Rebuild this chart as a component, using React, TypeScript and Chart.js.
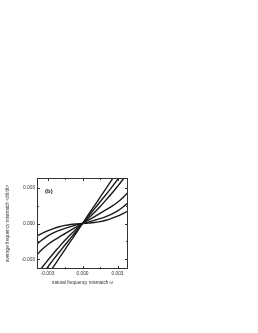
import React, { useEffect, useRef } from "react";
import { Chart, registerables } from "chart.js";

Chart.register(...registerables);

const omega = [-0.0045, -0.004, -0.0035, -0.003, -0.0025, -0.002, -0.0015, -0.001, -0.0005, -0.00025, 0, 0.00025, 0.0005, 0.001, 0.0015, 0.002, 0.0025, 0.003, 0.0035, 0.004, 0.0045];

const curveA = [-0.0014, -0.0011, -0.00085, -0.00062, -0.00043, -0.00027, -0.00016, -0.00008, -0.00003, -0.00001, 0, 0.00001, 0.00003, 0.00008, 0.00016, 0.00027, 0.00043, 0.00062, 0.00085, 0.0011, 0.0014];
const curveB = [-0.0022, -0.0018, -0.0014, -0.00105, -0.00079, -0.00058, -0.00041, -0.00026, -0.00012, -0.00006, 0, 0.00006, 0.00012, 0.00026, 0.00041, 0.00058, 0.00079, 0.00105, 0.0014, 0.0018, 0.0022];
const curveC = [-0.0033, -0.00272, -0.0022, -0.00177, -0.00143, -0.00113, -0.00085, -0.00056, -0.00028, -0.00014, 0, 0.00014, 0.00028, 0.00056, 0.00085, 0.00113, 0.00143, 0.00177, 0.0022, 0.00272, 0.0033];
const curveD = [-0.005, -0.00435, -0.00372, -0.0031, -0.0025, -0.00195, -0.0014, -0.0009, -0.00043, -0.00021, 0, 0.00021, 0.00043, 0.0009, 0.0014, 0.00195, 0.0025, 0.0031, 0.00372, 0.00435, 0.005];
const curveE = [-0.0056, -0.00496, -0.0043, -0.00366, -0.00302, -0.0024, -0.0018, -0.0012, -0.0006, -0.0003, 0, 0.0003, 0.0006, 0.0012, 0.0018, 0.0024, 0.00302, 0.00366, 0.0043, 0.00496, 0.0056];
const curveF = [-0.00653, -0.0058, -0.00508, -0.00435, -0.00363, -0.0029, -0.00218, -0.00145, -0.00073, -0.00036, 0, 0.00036, 0.00073, 0.00145, 0.00218, 0.0029, 0.00363, 0.00435, 0.00508, 0.0058, 0.00653];

const curves = [curveA, curveB, curveC, curveD, curveE, curveF];

const xMajorTicks = [-0.003, 0, 0.003];
const yMajorTicks = [-0.003, 0, 0.003];
const xMinorTicks = [-0.0015, 0.0015];
const yMinorTicks = [-0.0015, 0.0015];

const xTitle = "natural frequency mismatch ω";
const yTitle = "average frequency mismatch <dθ/dt>";
const panelLabel = "(b)";

const FONT = "'Liberation Sans', Arial, sans-serif";

const framePlugin = {
  id: "frameTicks",
  afterDraw(chart: any) {
    const { ctx, chartArea, scales } = chart;
    const { left, right, top, bottom } = chartArea;
    ctx.save();
    ctx.strokeStyle = "#333";
    ctx.lineWidth = 1;
    ctx.strokeRect(left + 0.5, top + 0.5, right - left - 1, bottom - top - 1);
    const drawX = (vals: number[], len: number) => {
      vals.forEach((v) => {
        const x = Math.round(scales.x.getPixelForValue(v)) + 0.5;
        ctx.beginPath();
        ctx.moveTo(x, bottom);
        ctx.lineTo(x, bottom - len);
        ctx.moveTo(x, top);
        ctx.lineTo(x, top + len);
        ctx.stroke();
      });
    };
    const drawY = (vals: number[], len: number) => {
      vals.forEach((v) => {
        const y = Math.round(scales.y.getPixelForValue(v)) + 0.5;
        ctx.beginPath();
        ctx.moveTo(left, y);
        ctx.lineTo(left + len, y);
        ctx.moveTo(right, y);
        ctx.lineTo(right - len, y);
        ctx.stroke();
      });
    };
    drawX(xMajorTicks, 3);
    drawX(xMinorTicks, 2);
    drawY(yMajorTicks, 3);
    drawY(yMinorTicks, 2);
    ctx.fillStyle = "#222";
    ctx.font = `bold 6px ${FONT}`;
    ctx.textBaseline = "middle";
    ctx.fillText(panelLabel, left + 8, top + 13);
    ctx.restore();
  },
};

export default function App() {
  const ref = useRef<HTMLCanvasElement | null>(null);
  useEffect(() => {
    if (!ref.current) return;
    const chart = new Chart(ref.current, {
      type: "line",
      data: {
        labels: omega,
        datasets: curves.map((c) => ({
          data: c.map((v, i) => ({ x: omega[i], y: v })),
          borderColor: "#1a1a1a",
          borderWidth: 1.4,
          pointRadius: 0,
          cubicInterpolationMode: "monotone" as const,
          fill: false,
        })),
      },
      options: {
        animation: false,
        responsive: false,
        maintainAspectRatio: false,
        layout: { padding: { top: 178, right: 130, bottom: 48, left: 0 } },
        plugins: { legend: { display: false }, tooltip: { enabled: false } },
        scales: {
          x: {
            type: "linear",
            min: -0.0039,
            max: 0.0039,
            grid: { display: false, drawTicks: false },
            border: { display: false },
            afterBuildTicks: (s: any) => {
              s.ticks = xMajorTicks.map((v) => ({ value: v }));
            },
            afterFit: (s: any) => {
              s.height = 16;
            },
            ticks: {
              padding: 2,
              autoSkip: false,
              maxRotation: 0,
              color: "#333",
              font: { family: FONT, size: 4.8 },
              callback: (v: any) => Number(v).toFixed(3),
            },
            title: {
              display: true,
              text: xTitle,
              color: "#333",
              padding: 0,
              font: { family: FONT, size: 4.6 },
            },
          },
          y: {
            type: "linear",
            min: -0.0038,
            max: 0.0038,
            grid: { display: false, drawTicks: false },
            border: { display: false },
            afterBuildTicks: (s: any) => {
              s.ticks = yMajorTicks.map((v) => ({ value: v }));
            },
            afterFit: (s: any) => {
              s.width = 37;
            },
            ticks: {
              padding: 2,
              autoSkip: false,
              color: "#333",
              font: { family: FONT, size: 4.8 },
              callback: (v: any) => Number(v).toFixed(3),
            },
            title: {
              display: true,
              text: yTitle,
              color: "#333",
              padding: { top: 5, bottom: 0 },
              font: { family: FONT, size: 4.7 },
            },
          },
        },
      },
      plugins: [framePlugin],
    });
    return () => chart.destroy();
  }, []);
  return (
    <div style={{ position: "absolute", left: 0, top: 0, width: 258, height: 333, background: "#fff" }}>
      <canvas ref={ref} width={258} height={333} style={{ width: 258, height: 333 }} />
    </div>
  );
}
